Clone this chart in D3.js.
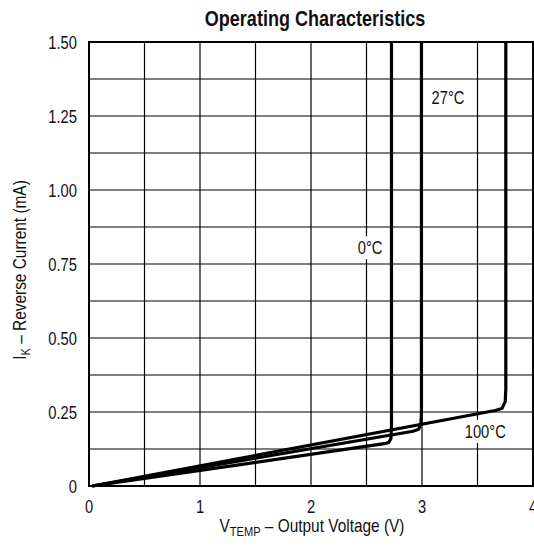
<!DOCTYPE html>
<html><head><meta charset="utf-8">
<script src="https://cdn.jsdelivr.net/npm/d3@7"></script>
<style>
html,body{margin:0;padding:0;background:#fff;}
svg{display:block;font-family:"Liberation Sans Narrow","Arial Narrow","Liberation Sans",Arial,sans-serif;}
</style></head>
<body>
<svg id="c" width="534" height="548"></svg>
<script>
// Data
const xTicks = [0, 1, 2, 3, 4];
const yTicks = [0, 0.25, 0.5, 0.75, 1.0, 1.25, 1.5];
const yTickLabels = ["0", "0.25", "0.50", "0.75", "1.00", "1.25", "1.50"];
const xGrid = [0, 0.5, 1, 1.5, 2, 2.5, 3, 3.5, 4];
const yGrid = [0, 0.125, 0.25, 0.375, 0.5, 0.625, 0.75, 0.875, 1.0, 1.125, 1.25, 1.375, 1.5];

const seriesNames = ["0°C", "27°C", "100°C"];
const v0   = [0.03, 2.66, 2.70, 2.72, 2.725, 2.725];
const i0   = [0, 0.143, 0.147, 0.16, 0.2, 1.5];
const v27  = [0.03, 2.92, 2.97, 2.99, 2.995, 2.995];
const i27  = [0, 0.185, 0.192, 0.21, 0.25, 1.5];
const v100 = [0.03, 3.66, 3.72, 3.75, 3.755, 3.755];
const i100 = [0, 0.255, 0.262, 0.285, 0.33, 1.5];
// label anchor positions (V, mA) – text baseline centre
const labelV = [2.532, 3.234, 3.57];
const labelI = [0.783, 1.29, 0.162];

const svg = d3.select("#c");
const L = 89, R = 533, T = 42, B = 486;
const x = d3.scaleLinear().domain([0, 4]).range([L, R]);
const y = d3.scaleLinear().domain([0, 1.5]).range([B, T]);
const NARROW = 0.82;

function ntext(parent, px, py, size, anchor) {
  return parent.append("text")
    .attr("transform", `translate(${px},${py}) scale(${NARROW},1)`)
    .attr("text-anchor", anchor || "middle")
    .attr("font-size", size).attr("fill", "#111");
}

// grid
const g = svg.append("g");
g.selectAll(".vx").data(xGrid).enter().append("line")
  .attr("x1", d => x(d)).attr("x2", d => x(d)).attr("y1", T).attr("y2", B)
  .attr("stroke", "#000").attr("stroke-width", 1.2);
g.selectAll(".hy").data(yGrid).enter().append("line")
  .attr("y1", d => y(d)).attr("y2", d => y(d)).attr("x1", L).attr("x2", R)
  .attr("stroke", "#000").attr("stroke-width", 1.2);

// series labels with white boxes (under the curves)
const lab = svg.append("g");
seriesNames.forEach((s, k) => {
  const t = ntext(lab, x(labelV[k]), y(labelI[k]), 18, "middle").text(s);
  const w = t.node().getComputedTextLength() * NARROW;
  lab.insert("rect", "text").attr("x", x(labelV[k]) - w / 2 - 4).attr("y", y(labelI[k]) - 18)
    .attr("width", w + 8).attr("height", 23).attr("fill", "#fff");
});

// curves
const line = d3.line().x(d => x(d[0])).y(d => y(d[1])).curve(d3.curveLinear);
const data = [d3.zip(v0, i0), d3.zip(v27, i27), d3.zip(v100, i100)];
svg.append("g").selectAll("path").data(data).enter().append("path")
  .attr("d", line).attr("fill", "none").attr("stroke", "#000")
  .attr("stroke-width", 3.2).attr("stroke-linejoin", "round").attr("stroke-linecap", "butt");

// border
svg.append("rect").attr("x", L).attr("y", T).attr("width", R - L).attr("height", B - T)
  .attr("fill", "none").attr("stroke", "#000").attr("stroke-width", 2);

// tick labels
const tl = svg.append("g");
xTicks.forEach(d => { ntext(tl, x(d), 513, 18, "middle").text(d3.format("d")(d)); });
yTicks.forEach((d, i) => { ntext(tl, 77, y(d) + 6.5, 18, "end").text(yTickLabels[i]); });

// title
ntext(svg, 315, 26, 22, "middle").attr("font-weight", "bold").text("Operating Characteristics");

// x title
const xt = ntext(svg, 312, 532, 18.8, "middle");
xt.append("tspan").text("V");
xt.append("tspan").attr("font-size", 13.5).attr("dy", 4).text("TEMP");
xt.append("tspan").attr("dy", -4).text(" – Output Voltage (V)");

// y title
const yt = svg.append("text").attr("transform", `translate(26,270) rotate(-90) scale(${NARROW},1)`)
  .attr("text-anchor", "middle").attr("font-size", 18.8).attr("fill", "#111");
yt.append("tspan").text("I");
yt.append("tspan").attr("font-size", 13.5).attr("dy", 4).text("K");
yt.append("tspan").attr("dy", -4).text(" – Reverse Current (mA)");
</script>
</body></html>
